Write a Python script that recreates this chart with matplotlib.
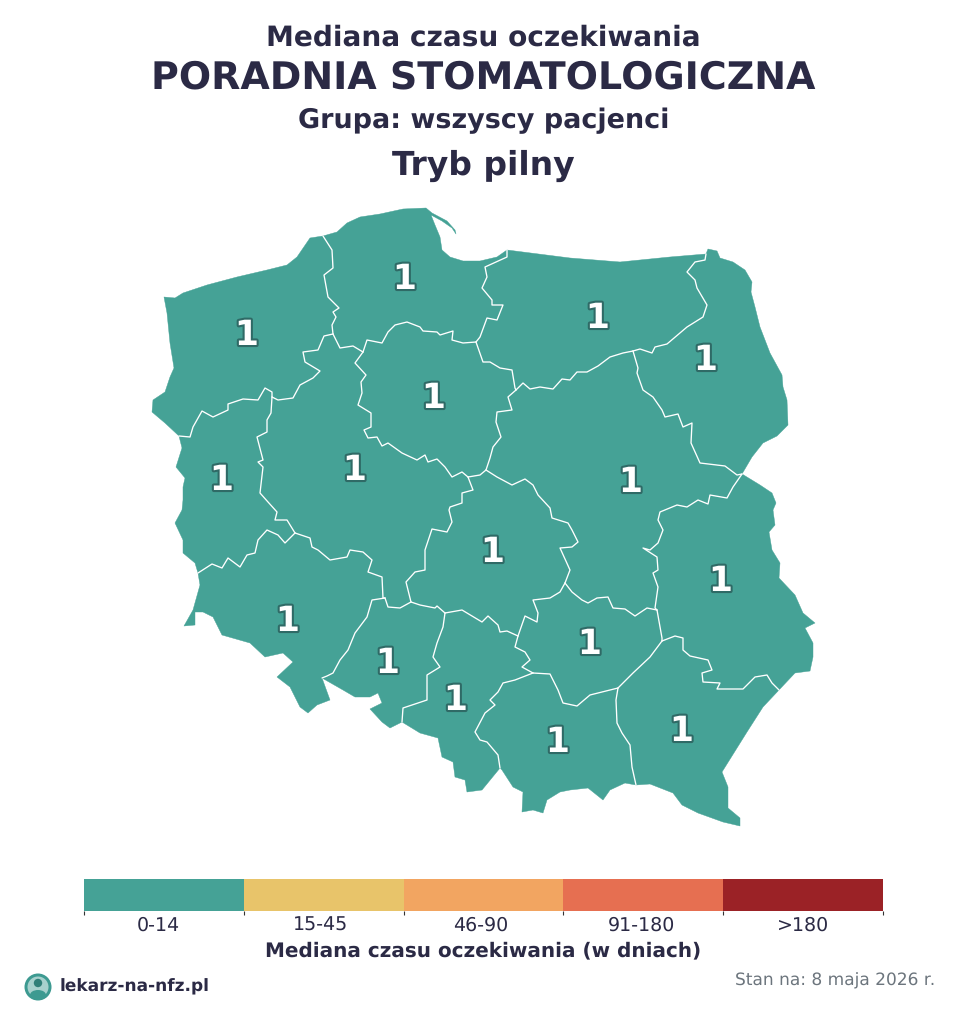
import matplotlib
matplotlib.use("Agg")
import matplotlib.pyplot as plt
import matplotlib.patheffects as pe
from matplotlib.patches import Polygon, Circle, Ellipse

# --- data ---------------------------------------------------------------
REGION_NAMES = ["zachodniopomorskie", "pomorskie", "warmińsko-mazurskie", "podlaskie",
                "kujawsko-pomorskie", "lubuskie", "wielkopolskie", "mazowieckie",
                "łódzkie", "lubelskie", "dolnośląskie", "opolskie", "świętokrzyskie",
                "śląskie", "małopolskie", "podkarpackie"]
REGION_VALUES = [1] * 16
LABEL_X = [247, 405, 598, 706, 434, 222, 355, 631, 493, 721, 288, 388, 590, 456, 558, 682]
LABEL_Y = [345, 289, 328, 370, 408, 490, 480, 492, 562, 591, 631, 673, 654, 710, 752, 741]

BIN_LABELS = ["0-14", "15-45", "46-90", "91-180", ">180"]
BIN_COLORS = ["#45A296", "#E8C46A", "#F2A561", "#E66F51", "#9B2226"]
BIN_UPPER = [14, 45, 90, 180, float("inf")]
BIN_LABEL_POS = [0.463, 1.48, 2.48, 3.49, 4.5]

# traced borders (x, y on the picture's map scale)
O_zach = [(179,436),(165,423),(152,412),(153,400),(165,392),(170,377),(174,368),(170,343),(167,313),(164,297),(175,298),(183,293),(207,285),(237,277),(267,270),(287,265),(297,257),(310,238),(323,236)]
O_pom = [(323,236),(337,232),(347,223),(360,217),(380,214),(403,209),(426,208),(432,213),(447,221),(455,230),(456,234),(452,228),(442,221),(431,215),(435,225),(440,237),(442,250),(450,257),(463,261),(480,261),(497,257),(507,250)]
O_war = [(507,250),(570,258),(620,262),(670,257),(706,254)]
O_pod = [(706,254),(708,249),(717,251),(720,258),(733,262),(745,270),(752,282),(751,292),(755,307),(760,327),(770,353),(782,375),(783,387),(787,400),(788,425),(777,436),(763,443),(752,457),(742,474)]
O_lub = [(742,474),(760,485),(772,493),(776,503),(773,510),(775,525),(769,532),(772,550),(780,563),(779,578),(795,595),(803,613),(815,623),(805,628),(813,643),(813,657),(810,671),(795,673),(779,690)]
O_pdk = [(779,690),(763,707),(747,732),(722,772),(728,787),(728,808),(740,818),(740,826),(723,822),(698,813),(682,805),(673,793),(650,784),(636,785)]
O_mal = [(636,785),(625,783),(610,790),(603,800),(588,788),(570,790),(560,792),(547,800),(543,813),(533,810),(522,812),(523,792),(513,787),(502,770),(500,768)]
O_sl = [(500,768),(482,790),(467,792),(465,780),(455,777),(453,762),(442,757),(438,738),(420,733),(402,722)]
O_op = [(402,722),(390,728),(382,722),(370,709),(382,703),(378,693),(370,697),(355,697),(343,690),(322,678)]
O_dol = [(322,678),(330,700),(317,705),(308,713),(300,707),(290,687),(277,677),(293,662),(283,653),(265,657),(250,643),(222,635),(213,617),(203,612),(195,612),(195,625),(184,626),(193,610),(200,585),(198,573)]
O_lbu = [(198,573),(195,563),(183,553),(183,540),(175,523),(182,510),(183,500),(183,487),(185,478),(176,467),(182,448),(179,436)]

B1 = [(323,236),(332,250),(333,268),(324,275),(328,297),(339,308),(333,312),(336,317),(332,325),(333,334)]
B2 = [(333,334),(324,336),(318,350),(303,352),(305,362),(320,371),(313,378),(300,385),(293,398),(278,400),(272,397)]
B3 = [(272,397),(272,392),(265,388),(258,400),(243,399),(228,404),(228,410),(213,417),(202,411),(193,427),(190,437),(179,436)]
B4 = [(363,352),(367,340),(382,343),(388,332),(395,325),(407,322),(420,327),(423,331),(437,332),(440,335),(453,331),(452,340),(463,343),(476,342)]
B5 = [(333,334),(340,348),(353,346),(363,352)]
B6 = [(363,352),(355,363),(366,375),(361,382),(362,393),(358,405),(371,413),(371,427),(364,430),(368,438),(377,437),(382,446),(388,443),(402,453),(417,460),(425,455),(428,462),(437,459),(445,467),(452,477),(462,472),(468,477)]
B7 = [(468,477),(480,475),(486,470)]
B8 = [(476,342),(483,362),(490,362),(500,368),(512,370),(515,388),(516,390)]
B9 = [(507,250),(507,257),(485,267),(487,277),(482,288),(492,300),(492,305),(503,305),(497,320),(487,318),(480,337),(476,342)]
B10 = [(516,390),(523,383),(530,389),(540,387),(553,389),(562,379),(570,380),(577,372),(587,372),(598,366),(610,357),(623,353),(633,351)]
B11 = [(633,351),(640,349),(652,353),(655,347),(667,344),(687,327),(703,317),(707,305),(697,288),(695,280),(687,272),(695,262),(705,260),(706,254)]
B12 = [(633,351),(638,368),(637,373),(643,390),(653,397),(662,410),(665,417),(678,414),(683,427),(692,423),(691,443),(700,463),(725,466),(737,475),(742,474)]
B13 = [(742,474),(733,487),(727,498),(710,495),(708,504),(698,500),(687,507),(677,505),(660,512),(658,520),(663,530),(658,543),(650,550),(643,548),(657,557),(658,570),(653,573),(658,587),(655,608),(657,610)]
B14 = [(657,610),(647,608),(635,616),(625,609),(613,608),(608,597),(597,598),(588,603),(582,600),(572,592),(565,583)]
B15 = [(565,583),(570,570),(560,548),(572,547),(578,542),(572,530),(568,523),(552,518),(550,508),(538,495),(533,485),(525,479),(512,485),(497,477),(486,470)]
B16 = [(516,390),(508,397),(512,410),(497,412),(496,422),(501,437),(493,447),(490,458),(486,470)]
B17 = [(468,477),(473,490),(462,493),(462,503),(450,507),(449,510),(452,522),(447,532),(432,529),(425,550),(425,570),(415,572),(406,582),(411,602)]
B18 = [(272,397),(271,413),(267,420),(267,432),(257,437),(263,460),(258,462),(263,467),(260,493),(268,502),(277,512),(275,520),(287,520),(295,533)]
B19 = [(295,533),(285,543),(278,535),(267,530),(258,540),(255,553),(247,555),(240,567),(228,558),(222,568),(212,564),(198,573)]
B20 = [(295,533),(310,538),(312,547),(318,550),(330,560),(347,557),(350,550),(363,552),(372,560),(368,572),(382,577),(383,598),(385,598)]
B21 = [(385,598),(372,600),(367,617),(355,633),(348,650),(340,660),(333,673),(327,676),(322,678)]
B22 = [(385,598),(388,607),(400,608),(411,602)]
B23 = [(411,602),(420,605),(435,608),(437,606),(445,613)]
B24 = [(445,613),(443,627),(437,643),(433,657),(440,667),(427,675),(427,700),(403,708),(402,722)]
B25 = [(445,613),(462,610),(482,622),(488,616),(498,625),(500,632),(507,631),(518,636)]
B26 = [(518,636),(525,616),(537,622),(538,613),(533,600),(550,598),(560,592),(565,583)]
B28 = [(518,636),(515,647),(525,652),(530,660),(522,667),(533,673)]
B29 = [(533,673),(515,680),(503,683),(498,692),(490,700),(495,705),(485,713),(475,732),(480,740),(487,742),(498,755),(500,768)]
B30 = [(533,673),(550,674),(558,690),(563,703),(577,706),(590,695),(618,688)]
B31 = [(618,688),(633,673),(650,657),(662,641)]
B32 = [(657,610),(662,638),(662,641)]
B33 = [(662,641),(675,636),(683,638),(683,650),(690,656),(708,660),(712,670),(702,673),(703,682),(720,683),(717,689),(743,689),(755,677),(767,675),(772,683),(779,690)]
B34 = [(618,688),(616,700),(617,723),(622,733),(630,745),(632,767),(636,785)]

INNER = [B1,B2,B3,B4,B5,B6,B7,B8,B9,B10,B11,B12,B13,B14,B15,B16,B17,B18,B19,B20,B21,B22,B23,B24,B25,B26,B28,B29,B30,B31,B32,B33,B34]

def r(seg):
    return seg[::-1]

RINGS = [
    [O_zach, B1, B2, B3],
    [O_pom, B9, r(B4), r(B5), r(B1)],
    [O_war, r(B11), r(B10), r(B8), r(B9)],
    [O_pod, r(B12), B11],
    [B4, B8, B16, r(B7), r(B6)],
    [B18, B19, O_lbu, r(B3)],
    [r(B2), B5, B6, B17, r(B22), r(B20), r(B18)],
    [r(B16), B10, B12, B13, B14, B15],
    [r(B17), B7, r(B15), r(B26), r(B25), r(B23)],
    [O_lub, r(B33), r(B32), r(B13)],
    [r(B19), B20, B21, O_dol],
    [B22, B23, B24, O_op, r(B21)],
    [r(B14), B32, r(B31), r(B30), r(B28), B26],
    [B25, B28, B29, O_sl, r(B24)],
    [B30, B34, O_mal, r(B29)],
    [B33, O_pdk, r(B34), B31],
]

# --- styles ---------------------------------------------------------------
plt.rcParams["font.family"] = ["DejaVu Sans"]
plt.rcParams["text.hinting"] = "no_hinting"
plt.rcParams["text.hinting_factor"] = 1
NAVY = "#2B2A45"
GREY = "#6C757D"
W, H = 960, 1025

def bin_color(v):
    for up, c in zip(BIN_UPPER, BIN_COLORS):
        if v <= up:
            return c
    return BIN_COLORS[-1]

fig = plt.figure(figsize=(W / 100, H / 100), dpi=100, facecolor="white")
ax = fig.add_axes([0, 0, 1, 1])
ax.set_xlim(0, W)
ax.set_ylim(H, 0)
ax.axis("off")

# map
for ring, val in zip(RINGS, REGION_VALUES):
    pts = [p for seg in ring for p in seg]
    c = bin_color(val)
    ax.add_patch(Polygon(pts, closed=True, facecolor=c, edgecolor=c, linewidth=0.3, joinstyle="round", zorder=2))
for seg in INNER:
    xs, ys = zip(*seg)
    ax.plot(xs, ys, color="white", lw=0.95, solid_joinstyle="round", solid_capstyle="round", zorder=3)

stroke = [pe.withStroke(linewidth=3.0, foreground="#2F6A66")]
for x, y, v in zip(LABEL_X, LABEL_Y, REGION_VALUES):
    ax.text(x, y, str(v), fontsize=25, fontweight="bold", color="white", ha="center",
            va="baseline", path_effects=stroke, zorder=5)

# titles
TITLE_KW = dict(fontweight="bold", color=NAVY, ha="center", va="baseline")
ax.text(483.5, 45.5, "Mediana czasu oczekiwania", fontsize=20.2, **TITLE_KW)
ax.text(483.5, 88, "PORADNIA STOMATOLOGICZNA", fontsize=27.05, **TITLE_KW)
ax.text(483.5, 128, "Grupa: wszyscy pacjenci", fontsize=19.2, **TITLE_KW)
ax.text(483.5, 174.5, "Tryb pilny", fontsize=24, **TITLE_KW)

# colour scale
cax = fig.add_axes([84 / W, 1 - 911 / H, 799 / W, 32 / H])
cax.bar(range(5), [1] * 5, width=1, align="edge", color=BIN_COLORS, linewidth=0)
cax.set_xlim(0, 5)
cax.set_ylim(0, 1)
cax.set_yticks([])
cax.set_xticks(range(6), [""] * 6)
cax.set_xticks(BIN_LABEL_POS, BIN_LABELS, minor=True)
cax.tick_params(axis="x", which="major", length=3, width=0.8, color="#333333", pad=2)
cax.tick_params(axis="x", which="minor", length=0, labelsize=14, labelcolor=NAVY, pad=14)
for lab in cax.get_xticklabels(minor=True):
    lab.set_verticalalignment("baseline")
for s in cax.spines.values():
    s.set_visible(False)

ax.text(483.5, 956, "Mediana czasu oczekiwania (w dniach)", fontsize=14.6, fontweight="bold", color=NAVY, ha="center", va="baseline")

# footer
ax.add_patch(Circle((38, 987), 13.5, facecolor="#3D9A91", edgecolor="none", zorder=2))
ax.add_patch(Circle((38, 987), 10.5, facecolor="white", edgecolor="none", alpha=0.55, zorder=3))
ax.add_patch(Circle((38, 983), 4.2, facecolor="#2F7F78", edgecolor="none", zorder=4))
ax.add_patch(Ellipse((38, 995), 16, 10, facecolor="#3D9A91", edgecolor="none", zorder=4))
ax.text(60, 991.5, "lekarz-na-nfz.pl", fontsize=12.5, fontweight="bold", color=NAVY, ha="left", va="baseline")
ax.text(935, 985, "Stan na: 8 maja 2026 r.", fontsize=12.45, color=GREY, ha="right", va="baseline")

fig.savefig("out.png", dpi=100, facecolor="white")
